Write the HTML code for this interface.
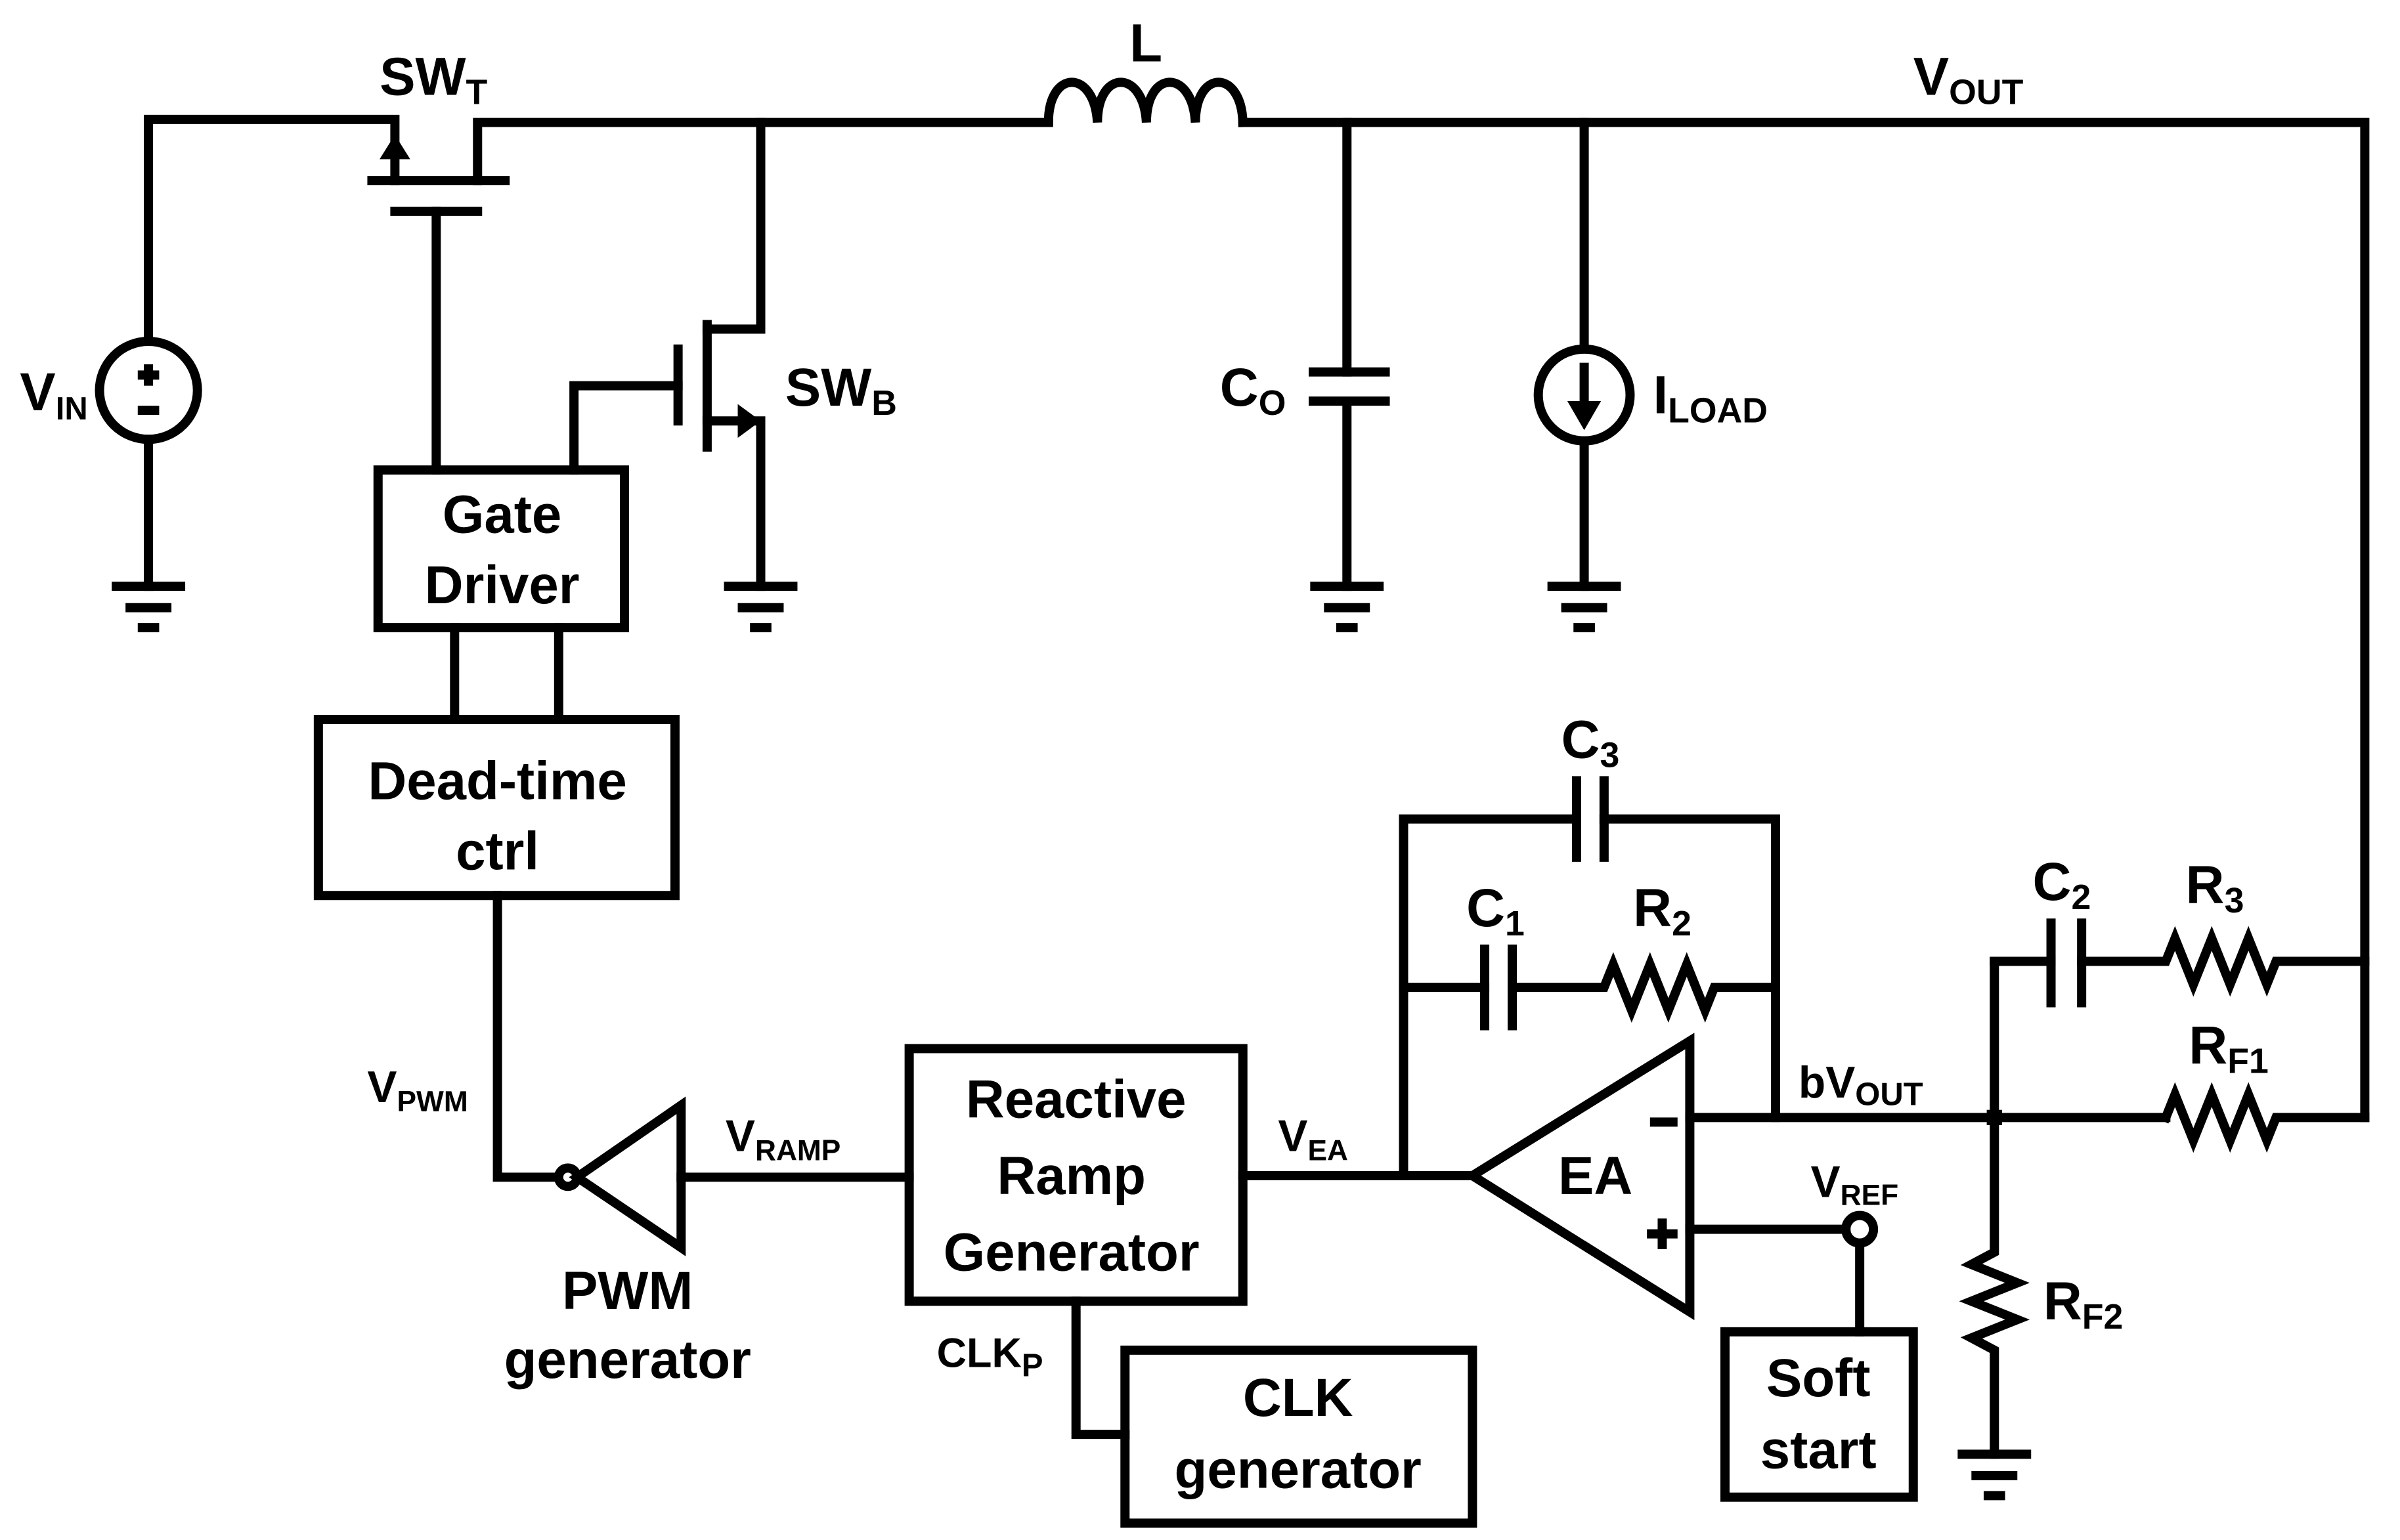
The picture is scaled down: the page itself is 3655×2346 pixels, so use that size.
<!DOCTYPE html>
<html><head><meta charset="utf-8"><style>
html,body{margin:0;padding:0;background:#fff}
svg{display:block}
text{font-family:"Liberation Sans",Arial,sans-serif;font-weight:bold;fill:#000}
</style></head><body>
<svg width="3655" height="2346" viewBox="0 0 1568 1006" preserveAspectRatio="none" xmlns="http://www.w3.org/2000/svg">
<g fill="none" stroke="#000" stroke-width="6" stroke-linecap="square" stroke-linejoin="miter">
<polyline points="97,223 97,78 258,78 258,118"/>
<polyline points="312,118 312,80 685,80"/>
<path d="M685,80 C685,45 715,45 717,80 C717,45 747,45 749,80 C749,45 779,45 781,80 C781,45 811,45 812,80"/>
<polyline points="812,80 1545,80 1545,730"/>
<line x1="243" y1="118" x2="330" y2="118"/>
<line x1="258" y1="138" x2="312" y2="138"/>
<line x1="285" y1="138" x2="285" y2="307"/>
<polyline points="375,307 375,252 443,252"/>
<line x1="443" y1="228" x2="443" y2="275"/>
<line x1="462" y1="212" x2="462" y2="292"/>
<polyline points="462,215 497,215 497,80"/>
<polyline points="462,275 497,275 497,383"/>
<circle cx="97" cy="255" r="32"/>
<line x1="97" y1="287" x2="97" y2="383"/>
<rect x="247" y="307" width="161" height="103"/>
<rect x="208" y="470" width="233" height="115"/>
<line x1="297" y1="410" x2="297" y2="470"/>
<line x1="365" y1="410" x2="365" y2="470"/>
<polyline points="325,585 325,769 364,769"/>
<circle cx="371" cy="769" r="6"/>
<polygon points="377,769 445,722 445,815"/>
<line x1="445" y1="769" x2="594" y2="769"/>
<rect x="594" y="685" width="218" height="165"/>
<line x1="812" y1="768" x2="962" y2="768"/>
<polyline points="703,850 703,937 735,937"/>
<rect x="735" y="882" width="227" height="113"/>
<polygon points="962,768 1104,680 1104,857"/>
<polyline points="917,768 917,535 1030,535"/>
<line x1="1030" y1="510" x2="1030" y2="560"/>
<line x1="1048" y1="510" x2="1048" y2="560"/>
<polyline points="1048,535 1160,535 1160,730"/>
<polyline points="917,645 970,645"/>
<line x1="970" y1="620" x2="970" y2="670"/>
<line x1="988" y1="620" x2="988" y2="670"/>
<polyline points="988,645 1048,645 1054,630 1066,660 1078,630 1090,660 1102,630 1114,660 1120,645 1160,645"/>
<line x1="1104" y1="730" x2="1415" y2="730"/>
<polyline points="1415,730 1421,715 1433,745 1445,715 1457,745 1469,715 1481,745 1487,730 1545,730"/>
<polyline points="1104,803 1206,803"/>
<circle cx="1215" cy="803" r="9"/>
<line x1="1215" y1="812" x2="1215" y2="870"/>
<rect x="1127" y="870" width="123" height="108"/>
<polyline points="1303,628 1303,818 1288,826 1318,838 1288,850 1318,862 1288,874 1303,882 1303,950"/>
<polyline points="1303,628 1340,628"/>
<line x1="1340" y1="603" x2="1340" y2="655"/>
<line x1="1360" y1="603" x2="1360" y2="655"/>
<polyline points="1360,628 1415,628 1421,613 1433,643 1445,613 1457,643 1469,613 1481,643 1487,628 1545,628"/>
<line x1="880" y1="80" x2="880" y2="243"/>
<line x1="858" y1="243" x2="905" y2="243"/>
<line x1="858" y1="262" x2="905" y2="262"/>
<line x1="880" y1="262" x2="880" y2="383"/>
<line x1="1035" y1="80" x2="1035" y2="228"/>
<circle cx="1035" cy="258" r="30"/>
<line x1="1035" y1="240" x2="1035" y2="268"/>
<line x1="1035" y1="288" x2="1035" y2="383"/>
</g>
<g fill="#000">
<polygon points="258,88 248,104 268,104"/>
<polygon points="497,275 482,264 482,286"/>
<polygon points="1035,281 1024,262 1046,262"/>
<rect x="1298" y="725" width="10" height="10"/>
</g>
<g stroke="#000" stroke-width="6">
<line x1="90" y1="245" x2="104" y2="245"/><line x1="97" y1="238" x2="97" y2="252"/>
<line x1="90" y1="268" x2="104" y2="268"/>
<line x1="73" y1="383" x2="121" y2="383"/><line x1="82" y1="397" x2="112" y2="397"/><line x1="90" y1="410" x2="104" y2="410"/>
<line x1="473" y1="383" x2="521" y2="383"/><line x1="482" y1="397" x2="512" y2="397"/><line x1="490" y1="410" x2="504" y2="410"/>
<line x1="856" y1="383" x2="904" y2="383"/><line x1="865" y1="397" x2="895" y2="397"/><line x1="873" y1="410" x2="887" y2="410"/>
<line x1="1011" y1="383" x2="1059" y2="383"/><line x1="1020" y1="397" x2="1050" y2="397"/><line x1="1028" y1="410" x2="1042" y2="410"/>
<line x1="1279" y1="950" x2="1327" y2="950"/><line x1="1288" y1="964" x2="1318" y2="964"/><line x1="1296" y1="977" x2="1310" y2="977"/>
<line x1="1078" y1="733" x2="1096" y2="733"/>
<line x1="1076" y1="806" x2="1096" y2="806"/><line x1="1086" y1="796" x2="1086" y2="816"/>
</g>
<g font-size="35">
<text x="248" y="62">SW<tspan font-size="23" dy="6">T</tspan></text>
<text x="738" y="40">L</text>
<text x="1250" y="62">V<tspan font-size="23" dy="6">OUT</tspan></text>
<text x="13" y="268">V<tspan font-size="21" dy="6">IN</tspan></text>
<text x="513" y="265">SW<tspan font-size="23" dy="6">B</tspan></text>
<text x="797" y="265">C<tspan font-size="23" dy="6">O</tspan></text>
<text x="1080" y="270">I<tspan font-size="23" dy="6">LOAD</tspan></text>
<text x="328" y="348" text-anchor="middle">Gate</text>
<text x="328" y="394" text-anchor="middle">Driver</text>
<text x="325" y="522" text-anchor="middle">Dead-time</text>
<text x="325" y="568" text-anchor="middle">ctrl</text>
<text x="240" y="720" font-size="29">V<tspan font-size="19" dy="6">PWM</tspan></text>
<text x="474" y="752" font-size="29">V<tspan font-size="19" dy="6">RAMP</tspan></text>
<text x="835" y="752" font-size="29">V<tspan font-size="19" dy="6">EA</tspan></text>
<text x="703" y="730" text-anchor="middle">Reactive</text>
<text x="700" y="780" text-anchor="middle">Ramp</text>
<text x="700" y="830" text-anchor="middle">Generator</text>
<text x="410" y="855" text-anchor="middle">PWM</text>
<text x="410" y="900" text-anchor="middle">generator</text>
<text x="612" y="893" font-size="27">CLK<tspan font-size="21" dy="6">P</tspan></text>
<text x="848" y="925" text-anchor="middle">CLK</text>
<text x="848" y="972" text-anchor="middle">generator</text>
<text x="1188" y="912" text-anchor="middle">Soft</text>
<text x="1188" y="959" text-anchor="middle">start</text>
<text x="1020" y="495">C<tspan font-size="23" dy="6">3</tspan></text>
<text x="958" y="605">C<tspan font-size="23" dy="6">1</tspan></text>
<text x="1067" y="605">R<tspan font-size="23" dy="6">2</tspan></text>
<text x="1328" y="588">C<tspan font-size="23" dy="6">2</tspan></text>
<text x="1428" y="590">R<tspan font-size="23" dy="6">3</tspan></text>
<text x="1430" y="695">R<tspan font-size="23" dy="6">F1</tspan></text>
<text x="1175" y="717" font-size="29">bV<tspan font-size="21" dy="5">OUT</tspan></text>
<text x="1018" y="780">EA</text>
<text x="1183" y="782" font-size="29">V<tspan font-size="19" dy="5">REF</tspan></text>
<text x="1335" y="862">R<tspan font-size="23" dy="6">F2</tspan></text>
</g>
</svg>
</body></html>
